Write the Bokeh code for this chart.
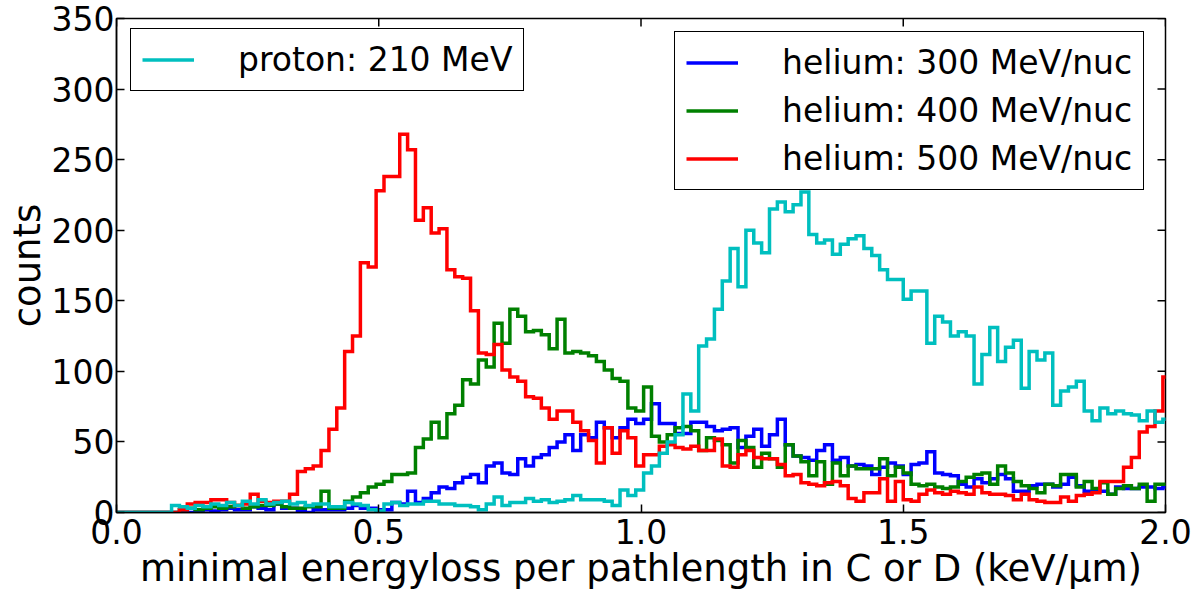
import numpy as np
from bokeh.plotting import figure
from bokeh.models import (Range1d, FixedTicker, Legend, LegendItem,
                          NumeralTickFormatter)
from bokeh.embed import file_html
from bokeh.resources import INLINE

# histogram bin width (keV/um), bins start at 0
BIN_WIDTH = 0.015

proton_210 = [
    0, 0, 0, 0, 0, 0, 0, 5, 4, 3,
    5, 4, 6, 5, 7, 5, 8, 6, 9, 6,
    7, 8, 6, 7, 5, 6, 6, 4, 4, 7,
    6, 5, 2, 1, 6, 7, 5, 6, 6, 8,
    8, 6, 6, 5, 5, 4, 2, 6, 11, 5,
    7, 7, 10, 8, 9, 7, 8, 9, 12, 9,
    9, 9, 8, 5, 16, 12, 16, 28, 33, 42,
    50, 55, 84, 72, 118, 123, 144, 164, 187, 160,
    200, 191, 184, 215, 220, 213, 218, 227, 197, 191,
    193, 183, 190, 194, 196, 187, 182, 172, 165, 165,
    151, 157, 157, 120, 139, 135, 125, 128, 125, 91,
    112, 131, 107, 117, 122, 88, 114, 108, 113, 76,
    86, 89, 93, 72, 65, 74, 70, 72, 70, 69,
    65, 72, 64, 66,
]
helium_300 = [
    0, 0, 0, 0, 0, 0, 0, 0, 0, 0,
    1, 2, 1, 2, 3, 2, 2, 4, 3, 2,
    6, 3, 3, 1, 0, 2, 2, 2, 2, 3,
    5, 3, 3, 2, 2, 7, 6, 15, 7, 10,
    14, 18, 17, 21, 25, 27, 21, 33, 35, 28,
    27, 38, 33, 39, 41, 46, 50, 55, 44, 55,
    53, 64, 60, 53, 60, 66, 63, 66, 77, 63,
    63, 56, 56, 64, 64, 61, 58, 59, 60, 46,
    54, 59, 47, 55, 66, 48, 40, 39, 37, 44,
    48, 37, 39, 33, 34, 33, 27, 32, 35, 33,
    27, 34, 35, 43, 28, 27, 26, 20, 18, 24,
    21, 24, 27, 24, 15, 15, 19, 20, 20, 18,
    20, 25, 19, 15, 15, 15, 13, 18, 17, 17,
    18, 18, 17, 18,
]
helium_400 = [
    0, 0, 0, 0, 0, 0, 0, 0, 2, 3,
    2, 3, 4, 3, 4, 5, 3, 4, 5, 5,
    6, 4, 3, 3, 4, 4, 15, 3, 3, 8,
    11, 14, 18, 20, 22, 27, 27, 28, 46, 52,
    64, 53, 70, 76, 94, 91, 108, 103, 134, 120,
    144, 139, 128, 129, 126, 116, 137, 113, 114, 113,
    111, 107, 101, 95, 93, 74, 72, 89, 54, 50,
    55, 60, 61, 58, 44, 53, 51, 48, 35, 51,
    46, 32, 42, 38, 32, 48, 40, 36, 26, 36,
    20, 35, 26, 33, 31, 31, 31, 38, 26, 32,
    28, 20, 19, 20, 18, 17, 18, 22, 25, 27,
    28, 20, 33, 28, 22, 19, 17, 14, 20, 19,
    27, 27, 18, 22, 17, 21, 13, 17, 19, 17,
    20, 8, 20, 20,
]
helium_500 = [
    0, 0, 0, 0, 0, 0, 0, 0, 2, 6,
    7, 7, 9, 9, 7, 5, 6, 13, 8, 7,
    8, 8, 13, 29, 31, 33, 44, 59, 74, 114,
    125, 177, 174, 228, 238, 238, 268, 257, 207, 216,
    198, 201, 172, 167, 166, 143, 113, 112, 119, 101,
    96, 93, 82, 81, 74, 66, 72, 72, 64, 58,
    51, 35, 60, 42, 58, 53, 33, 41, 41, 47,
    48, 46, 45, 47, 44, 44, 52, 33, 32, 41,
    44, 39, 38, 38, 34, 26, 27, 21, 20, 19,
    21, 22, 19, 10, 8, 14, 14, 24, 8, 22,
    9, 8, 13, 16, 14, 13, 15, 14, 13, 18,
    14, 13, 13, 12, 9, 13, 9, 8, 7, 7,
    11, 8, 12, 13, 14, 22, 22, 22, 32, 39,
    57, 61, 72, 96,
]

x_ticks = [0.0, 0.5, 1.0, 1.5, 2.0]
y_ticks = [0, 50, 100, 150, 200, 250, 300, 350]
X_MAX = 2.0
Y_MAX = 350
X_LABEL = "minimal energyloss per pathlength in C or D (keV/\u03bcm)"
Y_LABEL = "counts"

FONT = "DejaVu Sans"
TICK_FS = "33px"
LABEL_FS = "37px"
LEGEND_FS = "33px"

WIDTH, HEIGHT = 1200, 600
BORDER = dict(left=116, right=35, top=18, bottom=88)
FRAME_W = WIDTH - BORDER["left"] - BORDER["right"]
FRAME_H = HEIGHT - BORDER["top"] - BORDER["bottom"]
TICK_PX = 8


def step_path(counts):
    """Outline of a step histogram, like matplotlib's histtype='step'."""
    edges = np.arange(len(counts) + 1) * BIN_WIDTH
    xs, ys = [edges[0]], [0]
    for i, c in enumerate(counts):
        xs += [edges[i], edges[i + 1]]
        ys += [c, c]
    xs.append(edges[-1])
    ys.append(0)
    return xs, ys


p = figure(width=WIDTH, height=HEIGHT, output_backend="svg", toolbar_location=None,
           x_range=Range1d(0, X_MAX), y_range=Range1d(0, Y_MAX),
           min_border_left=BORDER["left"], min_border_right=BORDER["right"],
           min_border_top=BORDER["top"], min_border_bottom=BORDER["bottom"],
           x_axis_label=X_LABEL, y_axis_label=Y_LABEL)
p.grid.visible = False
p.outline_line_color = "black"
p.outline_line_width = 1.5
p.outline_line_alpha = 1.0
p.background_fill_color = "white"
p.border_fill_color = "white"

# Histograms
series = [
    (helium_300, "#0000ff", "helium: 300 MeV/nuc"),
    (helium_400, "#008000", "helium: 400 MeV/nuc"),
    (helium_500, "#ff0000", "helium: 500 MeV/nuc"),
    (proton_210, "#00bfbf", "proton: 210 MeV"),
]
renderers = {}
for counts, color, label in series:
    xs, ys = step_path(counts)
    renderers[label] = p.line(xs, ys, line_color=color, line_width=3.5,
                              line_join="miter")

# Axes, matplotlib-like ticks pointing inwards
for ax in p.xaxis + p.yaxis:
    ax.major_tick_in = TICK_PX
    ax.major_tick_out = 0
    ax.minor_tick_line_color = None
    ax.axis_line_width = 1.5
    ax.major_tick_line_width = 1.5
    ax.major_label_text_font = FONT
    ax.major_label_text_font_size = TICK_FS
    ax.major_label_text_color = "black"
    ax.axis_label_text_font = FONT
    ax.axis_label_text_font_size = LABEL_FS
    ax.axis_label_text_font_style = "normal"
    ax.axis_label_text_color = "black"
    ax.axis_label_standoff = 0
p.xaxis.major_label_standoff = 6
p.yaxis.major_label_standoff = 2
p.xaxis.ticker = FixedTicker(ticks=x_ticks)
p.xaxis.formatter = NumeralTickFormatter(format="0.0")
p.yaxis.ticker = FixedTicker(ticks=y_ticks)

# inward tick marks on the top and right frame edges
dx = TICK_PX * X_MAX / FRAME_W
dy = TICK_PX * Y_MAX / FRAME_H
p.segment(x0=[X_MAX] * len(y_ticks), x1=[X_MAX - dx] * len(y_ticks),
          y0=y_ticks, y1=y_ticks, line_color="black", line_width=1.5)
p.segment(x0=x_ticks, x1=x_ticks, y0=[Y_MAX] * len(x_ticks),
          y1=[Y_MAX - dy] * len(x_ticks), line_color="black", line_width=1.5)


def make_legend(labels, location):
    leg = Legend(items=[LegendItem(label=l, renderers=[renderers[l]]) for l in labels],
                 location=location)
    leg.label_text_font = FONT
    leg.label_text_font_size = LEGEND_FS
    leg.label_text_color = "black"
    leg.label_height = 33
    leg.glyph_height = 33
    leg.glyph_width = 52
    leg.label_standoff = 44
    leg.padding = 11
    leg.spacing = 9
    leg.margin = 0
    leg.border_line_color = "black"
    leg.border_line_width = 1.5
    leg.border_line_alpha = 1.0
    leg.background_fill_alpha = 1.0
    return leg


# locations are (x, y) in pixels from the frame's bottom-left corner
p.add_layout(make_legend(["proton: 210 MeV"], (14, 421)))
p.add_layout(make_legend(["helium: 300 MeV/nuc", "helium: 400 MeV/nuc",
                          "helium: 500 MeV/nuc"], (558, 322)))

open("out.html", "w").write(file_html(p, INLINE))
